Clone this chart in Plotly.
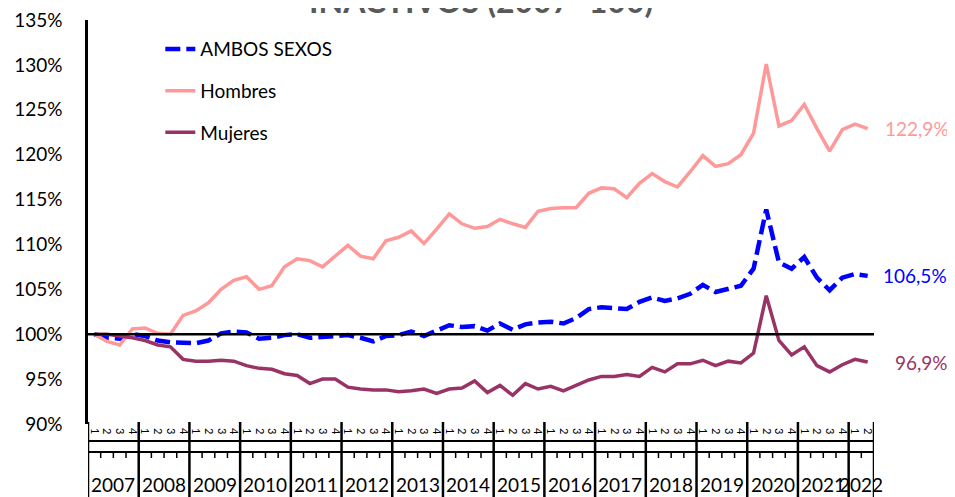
import plotly.graph_objects as go

# ---------------- data ----------------
years = ["2007", "2008", "2009", "2010", "2011", "2012", "2013", "2014",
         "2015", "2016", "2017", "2018", "2019", "2020", "2021", "2022"]
quarters = ["1", "2", "3", "4"]
last_year_quarters = 2  # 2022 only up to Q2

ambos = [100.0, 99.6, 99.5, 100.0, 99.8, 99.3, 99.1, 99.0, 99.0, 99.3,
         100.1, 100.3, 100.2, 99.5, 99.6, 99.9, 100.0, 99.6, 99.7, 99.9,
         99.9, 99.6, 99.2, 99.8, 99.9, 100.3, 99.8, 100.4, 101.0, 100.8,
         100.9, 100.4, 101.2, 100.5, 101.1, 101.3, 101.4, 101.2, 101.8, 102.8,
         103.0, 102.9, 102.8, 103.6, 104.1, 103.7, 104.0, 104.5, 105.5, 104.7,
         105.1, 105.4, 107.3, 113.9, 108.0, 107.3, 108.6, 106.3, 104.9, 106.3,
         106.7, 106.5]
hombres = [100.0, 99.2, 98.8, 100.6, 100.7, 100.1, 100.0, 102.1, 102.6, 103.5,
           105.0, 106.0, 106.4, 105.0, 105.4, 107.5, 108.4, 108.2, 107.5, 108.7,
           109.9, 108.7, 108.4, 110.4, 110.8, 111.5, 110.1, 111.7, 113.4, 112.3,
           111.8, 112.0, 112.8, 112.3, 111.9, 113.7, 114.0, 114.1, 114.1, 115.7,
           116.3, 116.2, 115.2, 116.8, 117.9, 117.0, 116.4, 118.1, 119.9, 118.7,
           119.0, 120.0, 122.4, 130.1, 123.2, 123.8, 125.6, 122.9, 120.4, 122.8,
           123.4, 122.9]
mujeres = [100.0, 100.0, 99.8, 99.6, 99.3, 98.8, 98.6, 97.2, 97.0, 97.0,
           97.1, 97.0, 96.5, 96.2, 96.1, 95.6, 95.4, 94.5, 95.0, 95.0,
           94.1, 93.9, 93.8, 93.8, 93.6, 93.7, 93.9, 93.4, 93.9, 94.0,
           94.8, 93.5, 94.3, 93.2, 94.5, 93.9, 94.2, 93.7, 94.3, 94.9,
           95.3, 95.3, 95.5, 95.3, 96.3, 95.8, 96.7, 96.7, 97.1, 96.5,
           97.0, 96.8, 97.9, 104.3, 99.3, 97.7, 98.6, 96.5, 95.8, 96.6,
           97.2, 96.9]
base_value = 100
y_ticks = [90, 95, 100, 105, 110, 115, 120, 125, 130, 135]

# ---------------- categories ----------------
period_year, period_q = [], []
for yi, yr in enumerate(years):
    nq = last_year_quarters if yi == len(years) - 1 else len(quarters)
    for q in quarters[:nq]:
        period_year.append(yr)
        period_q.append(q)
xs = list(range(len(period_q)))

FONT = "Lato"
series = [
    ("AMBOS SEXOS", ambos, dict(color="#0000FF", width=4.5, dash="15px,6px"), 13),
    ("Hombres", hombres, dict(color="#FF9999", width=3.5), 15),
    ("Mujeres", mujeres, dict(color="#993366", width=3.5), 25),
]

fig = go.Figure()
for name, vals, line, _ in series:
    fig.add_trace(go.Scatter(x=xs, y=vals, mode="lines", name=name, line=line,
                             legendgroup=name))

annotations = []
for name, vals, line, shift in series:
    annotations.append(dict(
        x=xs[-1], y=vals[-1], xref="x", yref="y",
        text=f"{vals[-1]:.1f}".replace(".", ",") + "%",
        showarrow=False, xanchor="left", yanchor="middle", xshift=shift,
        font=dict(family=FONT, size=19, color=line["color"])))

# year labels centred on their quarters
PLOT_H = 404
for yr in years:
    idx = [i for i, y in enumerate(period_year) if y == yr]
    annotations.append(dict(
        x=(idx[0] + idx[-1]) / 2, y=-61 / PLOT_H, xref="x", yref="paper",
        text=yr, showarrow=False, xanchor="center", yanchor="middle",
        font=dict(family=FONT, size=19, color="black")))

annotations.append(dict(
    x=0.5, y=1 - 2 / PLOT_H, xref="paper", yref="paper",
    text="<b>INACTIVOS (2007=100)</b>", showarrow=False,
    xanchor="center", yanchor="bottom",
    font=dict(family=FONT, size=32, color="#595959")))

shapes = [dict(type="line", xref="paper", yref="y", x0=0, x1=1,
               y0=base_value, y1=base_value, line=dict(color="black", width=2.5))]
# year dividers
bounds = [i - 0.5 for i in range(len(period_year))
          if i == 0 or period_year[i] != period_year[i - 1]] + [len(period_year) - 0.5]
for b in bounds:
    shapes.append(dict(type="line", xref="x", yref="paper", x0=b, x1=b,
                       y0=0.005, y1=-80 / PLOT_H, line=dict(color="black", width=2.5)))
for yy in (-17 / PLOT_H, -28 / PLOT_H):
    shapes.append(dict(type="line", xref="x", yref="paper", x0=-0.5,
                       x1=len(period_year) - 0.5, y0=yy, y1=yy,
                       line=dict(color="black", width=2)))
# small quarter ticks
for i in range(1, len(period_year)):
    if period_year[i] == period_year[i - 1]:
        shapes.append(dict(type="line", xref="x", yref="paper", x0=i - 0.5, x1=i - 0.5,
                           y0=-28 / PLOT_H, y1=-34 / PLOT_H,
                           line=dict(color="black", width=1.5)))

# the page body adds an 8px offset, so the figure is 8px smaller than the window
fig.update_layout(
    width=947, height=489,
    margin=dict(l=80, r=81, t=12, b=73, autoexpand=False),
    paper_bgcolor="white", plot_bgcolor="white",
    font=dict(family=FONT, size=19, color="black"),
    showlegend=True,
    legend=dict(x=0.092, y=0.975, xanchor="left", yanchor="top",
                bgcolor="rgba(0,0,0,0)", font=dict(family=FONT, size=19),
                traceorder="grouped", tracegroupgap=14),
    xaxis=dict(range=[-0.5, len(xs) - 0.5], tickmode="array", tickvals=xs,
               ticktext=period_q, tickangle=90, tickfont=dict(size=11),
               showgrid=False, zeroline=False, showline=False, ticks="",
               ticklabelstandoff=3, automargin=False),
    yaxis=dict(range=[90, 135], tickmode="array", tickvals=y_ticks,
               ticktext=[f"{v}%" for v in y_ticks], showgrid=False,
               zeroline=False, showline=True, linecolor="black", linewidth=2.5,
               ticks="", ticklabelstandoff=19, tickfont=dict(size=19),
               ticklabeloverflow="allow", automargin=False),
    annotations=annotations, shapes=shapes,
)

fig.write_html("out.html")
